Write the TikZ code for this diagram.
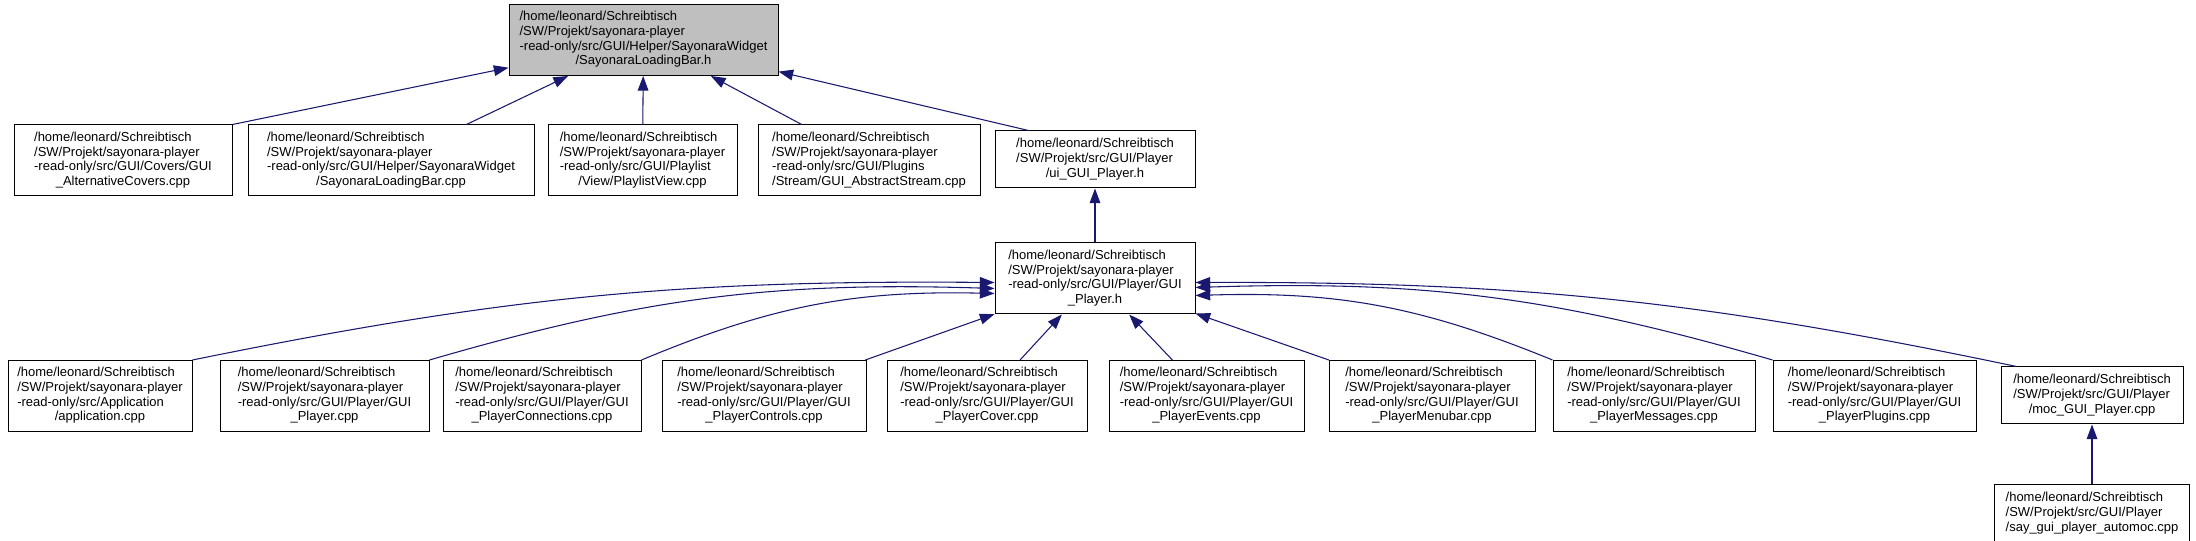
\documentclass[tikz,border=0pt]{standalone}
\usepackage{fontspec}
\setmainfont{Liberation Sans}
\usetikzlibrary{arrows.meta}
\usetikzlibrary{calc}
\usetikzlibrary{positioning}
\definecolor{midnightblue}{RGB}{25,25,112}
\definecolor{focusgray}{RGB}{191,191,191}
\newcommand{\fpath}[2]{\begin{tabular}{@{}l@{}}#1\\\multicolumn{1}{@{}c@{}}{#2}\end{tabular}}

\begin{document}
\begin{tikzpicture}[x=0.75pt, y=-0.75pt,
    file/.style={rectangle, draw=black, line width=0.75pt, inner sep=0pt, minimum width=#1*0.75pt, minimum height=53.25pt, font=\fontsize{9.75}{11}\selectfont},
    short/.style={minimum height=42.75pt},
    dep/.style={midnightblue, line width=0.8pt, <-, >={Triangle[length=11pt, width=8pt]}}]
    \useasboundingbox (0,0) rectangle (2196,541);

    \node [file=269, fill=focusgray] (sbarh) at (643.5,40) {\fpath{/home/leonard/Schreibtisch\\/SW/Projekt/sayonara-player\\-read-only/src/GUI/Helper/SayonaraWidget}{/SayonaraLoadingBar.h}};

    \node [file=218] (covers) at (123,160.5) {\fpath{/home/leonard/Schreibtisch\\/SW/Projekt/sayonara-player\\-read-only/src/GUI/Covers/GUI}{\_AlternativeCovers.cpp}};
    \node [file=286] (sbarcpp) at (391,160.5) {\fpath{/home/leonard/Schreibtisch\\/SW/Projekt/sayonara-player\\-read-only/src/GUI/Helper/SayonaraWidget}{/SayonaraLoadingBar.cpp}};
    \node [file=189] (plview) at (642.5,160.5) {\fpath{/home/leonard/Schreibtisch\\/SW/Projekt/sayonara-player\\-read-only/src/GUI/Playlist}{/View/PlaylistView.cpp}};
    \node [file=222] (astream) at (869,160.5) {\fpath{/home/leonard/Schreibtisch\\/SW/Projekt/sayonara-player\\-read-only/src/GUI/Plugins}{/Stream/GUI\_AbstractStream.cpp}};
    \node [file=200, short] (uiplayer) at (1095,159.5) {\fpath{/home/leonard/Schreibtisch\\/SW/Projekt/src/GUI/Player}{/ui\_GUI\_Player.h}};

    \node [file=200, below=40.5pt of uiplayer] (playerh) {\fpath{/home/leonard/Schreibtisch\\/SW/Projekt/sayonara-player\\-read-only/src/GUI/Player/GUI}{\_Player.h}};

    \node [file=184] (app) at (100,396) {\fpath{/home/leonard/Schreibtisch\\/SW/Projekt/sayonara-player\\-read-only/src/Application}{/application.cpp}};
    \node [file=209] (playercpp) at (324.5,396) {\fpath{/home/leonard/Schreibtisch\\/SW/Projekt/sayonara-player\\-read-only/src/GUI/Player/GUI}{\_Player.cpp}};
    \node [file=198] (conn) at (542,396) {\fpath{/home/leonard/Schreibtisch\\/SW/Projekt/sayonara-player\\-read-only/src/GUI/Player/GUI}{\_PlayerConnections.cpp}};
    \node [file=204] (controls) at (764,396) {\fpath{/home/leonard/Schreibtisch\\/SW/Projekt/sayonara-player\\-read-only/src/GUI/Player/GUI}{\_PlayerControls.cpp}};
    \node [file=200] (cover) at (987,396) {\fpath{/home/leonard/Schreibtisch\\/SW/Projekt/sayonara-player\\-read-only/src/GUI/Player/GUI}{\_PlayerCover.cpp}};
    \node [file=195] (events) at (1206.5,396) {\fpath{/home/leonard/Schreibtisch\\/SW/Projekt/sayonara-player\\-read-only/src/GUI/Player/GUI}{\_PlayerEvents.cpp}};
    \node [file=206] (menubar) at (1432,396) {\fpath{/home/leonard/Schreibtisch\\/SW/Projekt/sayonara-player\\-read-only/src/GUI/Player/GUI}{\_PlayerMenubar.cpp}};
    \node [file=202] (messages) at (1654,396) {\fpath{/home/leonard/Schreibtisch\\/SW/Projekt/sayonara-player\\-read-only/src/GUI/Player/GUI}{\_PlayerMessages.cpp}};
    \node [file=203] (plugins) at (1874.5,396) {\fpath{/home/leonard/Schreibtisch\\/SW/Projekt/sayonara-player\\-read-only/src/GUI/Player/GUI}{\_PlayerPlugins.cpp}};
    \node [file=182, short] (moc) at (2092,395.5) {\fpath{/home/leonard/Schreibtisch\\/SW/Projekt/src/GUI/Player}{/moc\_GUI\_Player.cpp}};
    \node [file=195, short, below=45pt of moc] (automoc) {\fpath{/home/leonard/Schreibtisch\\/SW/Projekt/src/GUI/Player}{/say\_gui\_player\_automoc.cpp}};

    \draw [dep] (sbarh) -- (covers.north east);
    \draw [dep] (sbarh) -- (sbarcpp);
    \draw [dep] (sbarh) -- (plview);
    \draw [dep] (sbarh) -- (astream);
    \draw [dep] (sbarh) -- ($(uiplayer.north west)+(34,0)$);
    \draw [dep] (uiplayer) -- (playerh);

    \draw [dep] ($(playerh.west)+(0,4)$) to[bend right=6] (app.north east);
    \draw [dep] ($(playerh.west)+(0,10)$) to[bend right=9] (playercpp.north east);
    \draw [dep] ($(playerh.west)+(0,15)$) to[bend right=12] (conn.north east);
    \draw [dep] (playerh) -- (controls);
    \draw [dep] (playerh) -- (cover);
    \draw [dep] (playerh) -- (events);
    \draw [dep] (playerh) -- (menubar);
    \draw [dep] ($(playerh.east)+(0,17)$) to[bend left=12] (messages.north west);
    \draw [dep] ($(playerh.east)+(0,9)$) to[bend left=9] (plugins.north west);
    \draw [dep] ($(playerh.east)+(0,4)$) to[bend left=6] ($(moc.north west)+(16,0)$);
    \draw [dep] (moc) -- (automoc);
\end{tikzpicture}
\end{document}
